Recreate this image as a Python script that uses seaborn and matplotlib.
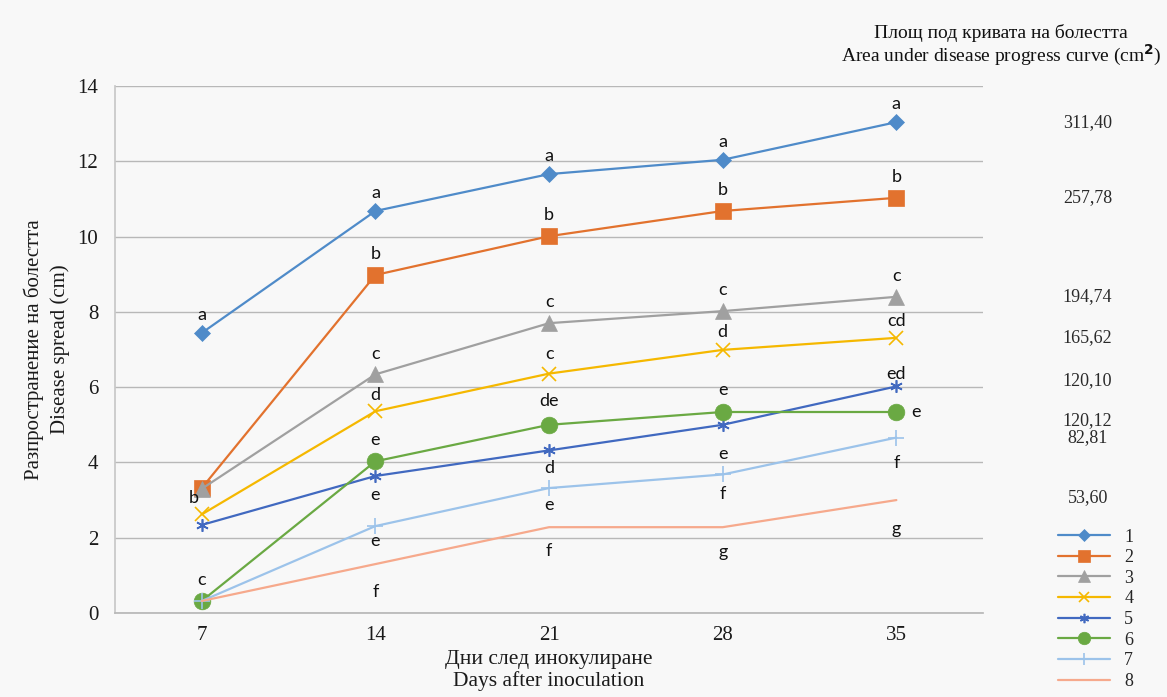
import matplotlib
matplotlib.use("Agg")
import matplotlib.pyplot as plt
import matplotlib.transforms as mtransforms
import seaborn as sns

days = [7, 14, 21, 28, 35]
series_names = ["1", "2", "3", "4", "5", "6", "7", "8"]
spread = [
    [7.44, 10.68, 11.66, 12.04, 13.04],
    [3.32, 8.98, 10.01, 10.68, 11.03],
    [3.30, 6.34, 7.70, 8.02, 8.40],
    [2.62, 5.36, 6.36, 6.99, 7.31],
    [2.34, 3.64, 4.32, 5.00, 6.02],
    [0.32, 4.03, 5.00, 5.34, 5.34],
    [0.32, 2.31, 3.32, 3.68, 4.66],
    [0.32, 1.30, 2.28, 2.28, 3.00],
]
letters = [
    ["a", "a", "a", "a", "a"],
    ["", "b", "b", "b", "b"],
    ["", "c", "c", "c", "c"],
    ["b", "d", "c", "d", "cd"],
    ["", "e", "d", "e", "ed"],
    ["c", "e", "de", "e", "e"],
    ["", "e", "e", "f", "f"],
    ["", "f", "f", "g", "g"],
]
audpc = ["311,40", "257,78", "194,74", "165,62", "120,10", "120,12", "82,81", "53,60"]
y_ticks = [0, 2, 4, 6, 8, 10, 12, 14]

colors = ["#4F8BC9", "#E2722E", "#A0A0A0", "#F5B800", "#4169C0",
          "#6AA943", "#9CC3EA", "#F6A98C"]
markers = ["D", "s", "^", "x", (6, 2, 0), "o", "+", None]
msizes = [8, 11, 11, 10, 9, 12, 12, 0]
# letter placement: offset in points (dx, dy) per series, per day
letter_offsets = [
    [(0, 13)] * 5,
    [(0, 15)] * 5,
    [(0, 15)] * 5,
    [(-6, 12), (0, 12), (0, 14), (0, 13), (0, 12)],
    [(0, -14), (0, -14), (0, -13), (0, -21), (0, 9)],
    [(0, 15), (0, 15), (0, 17), (0, 16), (14, 0)],
    [(0, -14), (0, -11), (0, -12), (0, -14), (0, -18)],
    [(0, -14), (0, -20), (0, -17), (0, -18), (0, -21)],
]

sns.set_theme(style="white")
plt.rcParams["font.family"] = ["Liberation Serif", "DejaVu Serif"]

fig = plt.figure(figsize=(11.67, 6.97), dpi=100, facecolor="#f8f8f8")
ax = fig.add_axes([0.0985, 0.1205, 0.744, 0.7561])
ax.set_facecolor("#f8f8f8")

for name, vals, c, m, ms in zip(series_names, spread, colors, markers, msizes):
    sns.lineplot(x=days, y=vals, color=c, marker=m, markersize=ms,
                 markeredgecolor=c, markeredgewidth=1.2 if m in ("x", "+", (6, 2, 0)) else 0.5,
                 linewidth=1.6, label=name, ax=ax, zorder=3)

for vals, labs, offs in zip(spread, letters, letter_offsets):
    for d, v, lab, off in zip(days, vals, labs, offs):
        if lab:
            ax.annotate(lab, (d, v), xytext=off, textcoords="offset points",
                        ha="center", va="center", fontsize=13,
                        family=["Lato", "DejaVu Sans"], color="#111111", zorder=5)

ax.set_xlim(3.5, 38.5)
ax.set_ylim(0, 14)
ax.set_xticks(days)
ax.set_yticks(y_ticks)
ax.tick_params(axis="both", labelsize=15, length=0, colors="#1a1a1a")
ax.tick_params(axis="y", pad=12)
ax.tick_params(axis="x", pad=9)
ax.grid(axis="y", color="#b8b8b8", linewidth=1.0)
ax.grid(axis="x", visible=False)
ax.set_axisbelow(True)
for s in ["top", "right"]:
    ax.spines[s].set_visible(False)
ax.spines["left"].set_color("#c8c8c8")
ax.spines["bottom"].set_color("#b8b8b8")

ax.set_xlabel("Дни след инокулиране\nDays after inoculation", fontsize=15.5,
              color="#1a1a1a", labelpad=4, linespacing=1.15)
ax.set_ylabel("Разпространение на болестта\nDisease spread (cm)", fontsize=15,
              color="#1a1a1a", labelpad=5, linespacing=1.45)

# AUDPC values on the right, aligned with last values
trans = mtransforms.blended_transform_factory(fig.transFigure, ax.transData)
audpc_dy = [0, 0, 0, 0, 4, -6, 0, 2]
for vals, txt, dy in zip(spread, audpc, audpc_dy):
    ax.annotate(txt, (0.932, vals[-1]), xycoords=trans, xytext=(0, dy),
                textcoords="offset points", ha="center", va="center",
                fontsize=13, color="#2a2a2a", annotation_clip=False)

fig.text(0.858, 0.934, "Площ под кривата на болестта\nArea under disease progress curve (cm$^{\\mathbf{2}}$)",
         ha="center", va="center", fontsize=14, color="#111111", linespacing=1.0)

leg = ax.legend(loc="upper left", bbox_to_anchor=(0.9, 0.252), bbox_transform=fig.transFigure,
                frameon=False, fontsize=13, handlelength=2.9, labelspacing=0.2,
                handletextpad=0.8, borderaxespad=0, markerscale=0.75)

fig.savefig("out.png", dpi=100, facecolor=fig.get_facecolor())
